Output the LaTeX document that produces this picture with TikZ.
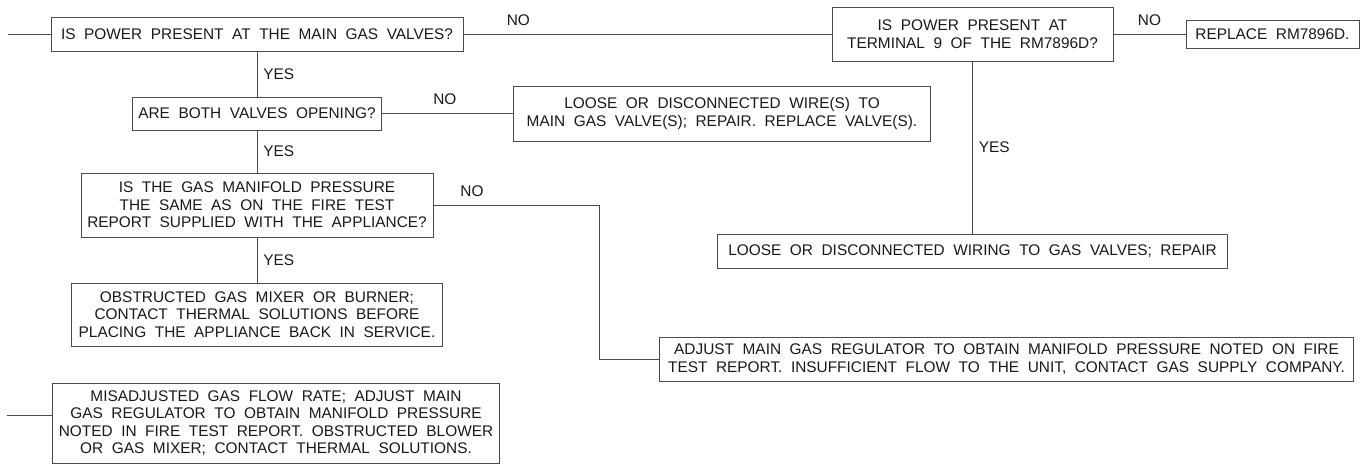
\documentclass[tikz,border=0pt]{standalone}
\usepackage{fontspec}
\setmainfont[WordSpace=2]{Liberation Sans}
\usetikzlibrary{positioning}

\begin{document}
\begin{tikzpicture}[x=1pt, y=1pt,
textfont/.style={font=\fontsize{15.4}{17.5}\selectfont},
box/.style={rectangle, draw=black!70, line width=0.75pt, align=center, inner xsep=2pt, inner ysep=2pt, outer sep=0pt, textfont, text=black!90},
lbl/.style={inner sep=1pt, textfont, text=black!90},
link/.style={draw=black!70, line width=0.75pt},
]
\useasboundingbox (0,0) rectangle (1367,465);
%Nodes
\node[box, minimum width=412pt, minimum height=34pt] (power) at (257,431) {IS POWER PRESENT AT THE MAIN GAS VALVES?};
\node[box, minimum width=249pt, minimum height=33pt] (valves) [below=46pt of power] {ARE BOTH VALVES OPENING?};
\node[box, minimum width=352pt, minimum height=64pt] (pressure) [below=43pt of valves] {IS THE GAS MANIFOLD PRESSURE\\THE SAME AS ON THE FIRE TEST\\REPORT SUPPLIED WITH THE APPLIANCE?};
\node[box, minimum width=371pt, minimum height=63pt] (mixer) [below=46pt of pressure] {OBSTRUCTED GAS MIXER OR BURNER;\\CONTACT THERMAL SOLUTIONS BEFORE\\PLACING THE APPLIANCE BACK IN SERVICE.};
\node[box, minimum width=447pt, minimum height=80pt] (flowrate) [below=37pt of mixer.south west, anchor=north west, xshift=-19pt] {MISADJUSTED GAS FLOW RATE; ADJUST MAIN\\GAS REGULATOR TO OBTAIN MANIFOLD PRESSURE\\NOTED IN FIRE TEST REPORT. OBSTRUCTED BLOWER\\OR GAS MIXER; CONTACT THERMAL SOLUTIONS.};
\node[box, minimum width=281pt, minimum height=54pt] (terminal) [right=369pt of power] {IS POWER PRESENT AT\\TERMINAL 9 OF THE RM7896D?};
\node[box, minimum width=173pt, minimum height=28pt] (replace) [right=73pt of terminal] {REPLACE RM7896D.};
\node[box, minimum width=510pt, minimum height=34pt] (wiring) [below=173pt of terminal] {LOOSE OR DISCONNECTED WIRING TO GAS VALVES; REPAIR};
\node[box, minimum width=417pt, minimum height=55pt] (wires) [right=132pt of valves] {LOOSE OR DISCONNECTED WIRE(S) TO\\MAIN GAS VALVE(S); REPAIR. REPLACE VALVE(S).};
\node[box, minimum width=694pt, minimum height=44pt] (regulator) [right=217pt of mixer, yshift=-44.5pt] {ADJUST MAIN GAS REGULATOR TO OBTAIN MANIFOLD PRESSURE NOTED ON FIRE\\TEST REPORT. INSUFFICIENT FLOW TO THE UNIT, CONTACT GAS SUPPLY COMPANY.};
\coordinate[left=43pt of power.west] (startpower);
\coordinate[left=46pt of flowrate.west, yshift=8pt] (startflow);
\coordinate[right=166pt of pressure.east] (turnpressure);
%Connectors
\path[link]
	(startpower) edge (power)
	(power) edge node [lbl, right=5pt] {YES} (valves)
	(valves) edge node [lbl, right=5pt] {YES} (pressure)
	(pressure) edge node [lbl, right=5pt] {YES} (mixer)
	(power) edge node [lbl, above=7pt, pos=.15] {NO} (terminal)
	(terminal) edge node [lbl, above=7pt] {NO} (replace)
	(terminal) edge node [lbl, right=5pt] {YES} (wiring)
	(valves) edge node [lbl, above=7pt, pos=.48] {NO} (wires);
\draw[link] (pressure.east) -- node [lbl, above=7pt, pos=.235] {NO} (turnpressure) |- (regulator.west);
\draw[link] (startflow) -- (startflow -| flowrate.west);
\end{tikzpicture}
\end{document}
